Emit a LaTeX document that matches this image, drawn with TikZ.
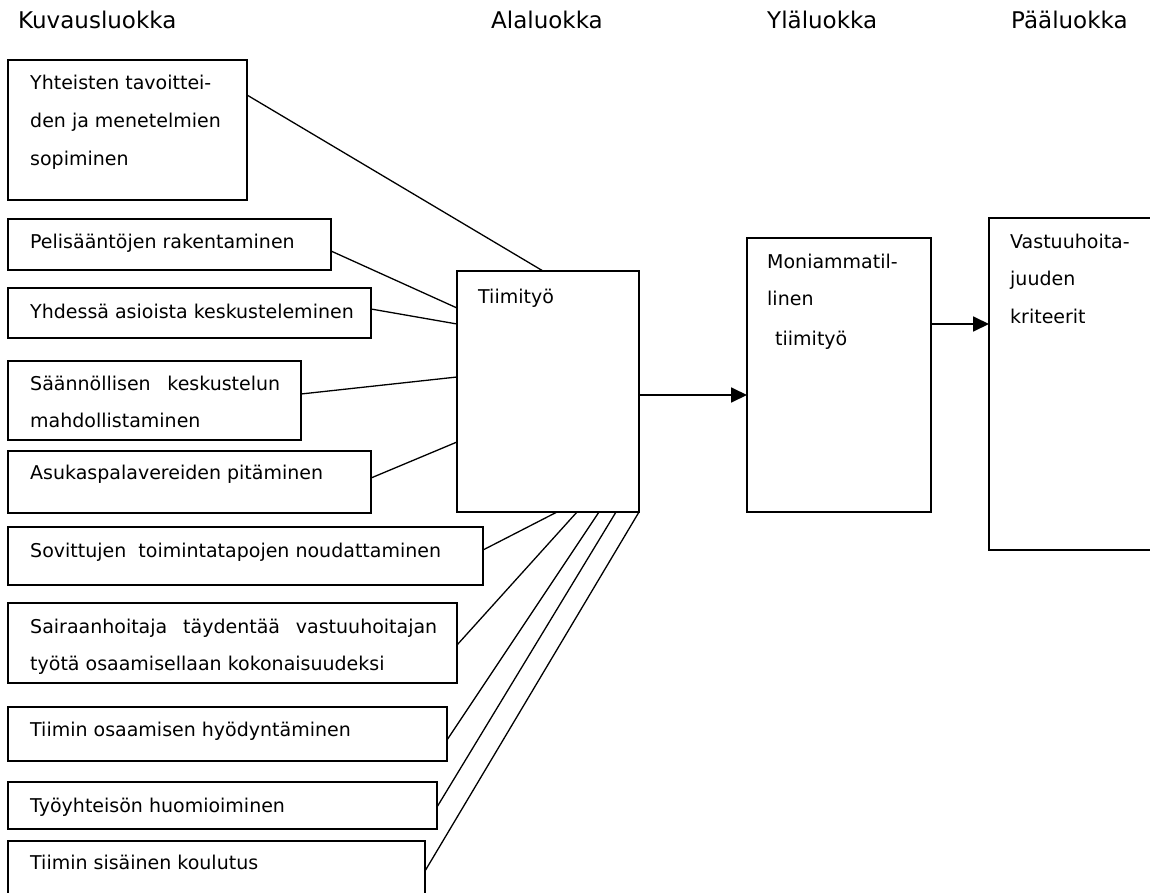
\documentclass[tikz,border=0pt]{standalone}
\usepackage{fontspec}
\setmainfont{DejaVu Sans}
\usetikzlibrary{arrows.meta}
\begin{document}
\begin{tikzpicture}[x=1pt,y=-1pt,
  box/.style={draw, line width=1.4pt, rectangle, inner sep=0pt, outer sep=0pt, anchor=north west},
  txt/.style={anchor=base west, inner sep=0pt, font=\fontsize{19}{23}\selectfont},
  head/.style={anchor=base west, inner sep=0pt, font=\fontsize{23}{28}\selectfont},
  link/.style={line width=1.3pt},
  arr/.style={line width=1.8pt, -{Triangle[length=16pt,width=15pt]}}]
\clip (0,0) rectangle (1150,893);

% column headings
\node[head] (h1) at (18,29) {Kuvausluokka};
\node[head] (h2) at (491,29) {Alaluokka};
\node[head] (h3) at (767,29) {Yläluokka};
\node[head] (h4) at (1011,29) {Pääluokka};

% description boxes
\node[box, minimum width=239pt, minimum height=140pt] (b1) at (8,60) {};
\node[box, minimum width=323pt, minimum height=51pt] (b2) at (8,219) {};
\node[box, minimum width=363pt, minimum height=50pt] (b3) at (8,288) {};
\node[box, minimum width=293pt, minimum height=79pt] (b4) at (8,361) {};
\node[box, minimum width=363pt, minimum height=62pt] (b5) at (8,451) {};
\node[box, minimum width=475pt, minimum height=58pt] (b6) at (8,527) {};
\node[box, minimum width=449pt, minimum height=80pt] (b7) at (8,603) {};
\node[box, minimum width=439pt, minimum height=54pt] (b8) at (8,707) {};
\node[box, minimum width=429pt, minimum height=47pt] (b9) at (8,782) {};
\node[box, minimum width=417pt, minimum height=60pt] (b10) at (8,841) {};

% category boxes
\node[box, minimum width=182pt, minimum height=241pt] (tm) at (457,271) {};
\node[box, minimum width=184pt, minimum height=274pt] (mo) at (747,238) {};
\node[box, minimum width=175pt, minimum height=332pt] (va) at (989,218) {};

% box texts
\node[txt] (t1a) at (30,90) {Yhteisten tavoittei-};
\node[txt] (t1b) at (30,128) {den ja menetelmien};
\node[txt] (t1c) at (30,166) {sopiminen};
\node[txt] (t2) at (30,248) {Pelisääntöjen rakentaminen};
\node[txt] (t3) at (30,318) {Yhdessä asioista keskusteleminen};
\node[txt] (t4a) at (30,390) {\hbox to 250pt{Säännöllisen\hfill keskustelun}};
\node[txt] (t4b) at (30,427) {mahdollistaminen};
\node[txt] (t5) at (30,479) {Asukaspalavereiden pitäminen};
\node[txt] (t6) at (30,557) {Sovittujen\ \ toimintatapojen noudattaminen};
\node[txt] (t7a) at (30,633) {\hbox to 407pt{Sairaanhoitaja\hfill täydentää\hfill vastuuhoitajan}};
\node[txt] (t7b) at (30,670) {työtä osaamisellaan kokonaisuudeksi};
\node[txt] (t8) at (30,736) {Tiimin osaamisen hyödyntäminen};
\node[txt] (t9) at (30,812) {Työyhteisön huomioiminen};
\node[txt] (t10) at (30,869) {Tiimin sisäinen koulutus};

\node[txt] (ttm) at (478,303) {Tiimityö};
\node[txt] (tmoa) at (767,268) {Moniammatil-};
\node[txt] (tmob) at (767,305) {linen};
\node[txt] (tmoc) at (775,345) {tiimityö};
\node[txt] (tvaa) at (1010,248) {Vastuuhoita-};
\node[txt] (tvab) at (1010,285) {juuden};
\node[txt] (tvac) at (1010,323) {kriteerit};

% links from descriptions to Tiimityö
\draw[link] ([yshift=-35pt]b1.north east) -- ([xshift=86pt]tm.north west);
\draw[link] ([yshift=-32pt]b2.north east) -- ([yshift=-37pt]tm.north west);
\draw[link] ([yshift=-21pt]b3.north east) -- ([yshift=-53pt]tm.north west);
\draw[link] ([yshift=-33pt]b4.north east) -- ([yshift=-106pt]tm.north west);
\draw[link] ([yshift=-27pt]b5.north east) -- ([yshift=-171pt]tm.north west);
\draw[link] ([yshift=-23pt]b6.north east) -- ([xshift=100pt]tm.south west);
\draw[link] ([yshift=-42pt]b7.north east) -- ([xshift=120pt]tm.south west);
\draw[link] ([yshift=-33pt]b8.north east) -- ([xshift=142pt]tm.south west);
\draw[link] ([yshift=-25pt]b9.north east) -- ([xshift=159pt]tm.south west);
\draw[link] ([yshift=-30pt]b10.north east) -- (tm.south east);

% arrows between categories
\coordinate (a1) at ([yshift=-124pt]tm.north east);
\draw[arr] (a1) -- (a1 -| mo.west);
\coordinate (a2) at ([yshift=-86pt]mo.north east);
\draw[arr] (a2) -- (a2 -| va.west);
\end{tikzpicture}
\end{document}
